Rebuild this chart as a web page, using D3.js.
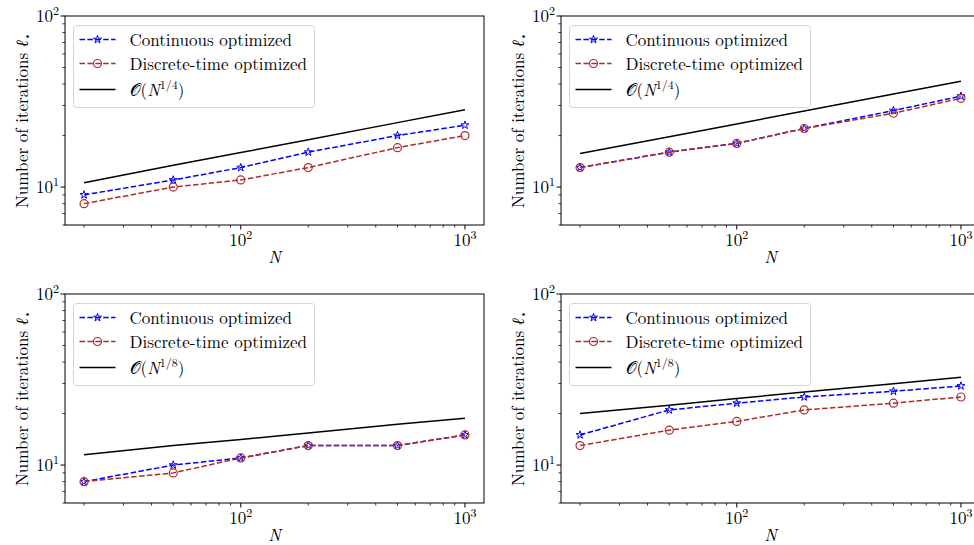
<!DOCTYPE html>
<html><head><meta charset="utf-8">
<script src="https://cdn.jsdelivr.net/npm/d3@7"></script>
<style>
body{margin:0;background:#fff}
svg{display:block}
</style>
</head><body><svg id="c" width="974" height="545"></svg>
<script>
// ---- data ----
const N = [20, 50, 100, 200, 500, 1000];
const contA = [9, 11, 13, 16, 20, 23];
const discA = [8, 10, 11, 13, 17, 20];
const refA  = [10.6, 13.4, 15.9, 18.9, 23.8, 28.3];
const contB = [13, 16, 18, 22, 28, 34];
const discB = [13, 16, 18, 22, 27, 33];
const refB  = [15.7, 19.7, 23.4, 27.8, 35.0, 41.6];
const contC = [8, 10, 11, 13, 13, 15];
const discC = [8, 9, 11, 13, 13, 15];
const refC  = [11.5, 13.0, 14.1, 15.4, 17.3, 18.8];
const contD = [15, 21, 23, 25, 27, 29];
const discD = [13, 16, 18, 21, 23, 25];
const refD  = [20.0, 22.4, 24.5, 26.7, 29.9, 32.6];
const seriesLabels = ["Continuous optimized", "Discrete-time optimized"];
const refExponents = ["1/4", "1/4", "1/8", "1/8"];
const xMajorTicks = [100, 1000];
const yMajorTicks = [10, 100];
const yLimits = [6, 100];

const panelData = [
  {cont: contA, disc: discA, ref: refA, exp: refExponents[0]},
  {cont: contB, disc: discB, ref: refB, exp: refExponents[1]},
  {cont: contC, disc: discC, ref: refC, exp: refExponents[2]},
  {cont: contD, disc: discD, ref: refD, exp: refExponents[3]}
];

// ---- layout ----
const W = 419, H = 209;
const origins = [[65, 16], [561, 16], [65, 294], [561, 294]];
const BLUE = "#0000ff", RED = "#b02a2a";
const FONT = "Latin Modern Roman";
const FS = 17;
const svg = d3.select("#c");

const lx = Math.log10(d3.min(N)), hx = Math.log10(d3.max(N));
const m = (hx - lx) * 0.05;
const xDomain = [Math.pow(10, lx - m), Math.pow(10, hx + m)];

function txt(sel) { return sel.append("text").style("font-family", FONT).attr("fill", "#000"); }
function sup(sel, base, exp, supfs, dy) {
  sel.append("tspan").text(base);
  sel.append("tspan").attr("font-size", supfs).attr("dy", dy).text(exp);
}
const STAR = d3.symbol(d3.symbolStar, 20)();

panelData.forEach((p, i) => {
  const [ox, oy] = origins[i];
  const g = svg.append("g").attr("transform", `translate(${ox},${oy})`);
  const x = d3.scaleLog().domain(xDomain).range([0, W]);
  const y = d3.scaleLog().domain(yLimits).range([H, 0]);

  // minor ticks
  const xMinor = [];
  for (let d = 1; d <= 1000; d *= 10) for (let k = 2; k <= 9; k++) {
    const v = d * k; if (v >= xDomain[0] && v <= xDomain[1]) xMinor.push(v);
  }
  const yMinor = [];
  for (let d = 1; d <= 100; d *= 10) for (let k = 2; k <= 9; k++) {
    const v = d * k; if (v >= yLimits[0] && v <= yLimits[1]) yMinor.push(v);
  }
  g.selectAll(".xmn").data(xMinor).join("line")
    .attr("x1", d => x(d)).attr("x2", d => x(d)).attr("y1", H).attr("y2", H + 2.5)
    .attr("stroke", "#000").attr("stroke-width", 0.8);
  g.selectAll(".ymn").data(yMinor).join("line")
    .attr("y1", d => y(d)).attr("y2", d => y(d)).attr("x1", 0).attr("x2", -2.5)
    .attr("stroke", "#000").attr("stroke-width", 0.8);
  g.selectAll(".xmj").data(xMajorTicks).join("line")
    .attr("x1", d => x(d)).attr("x2", d => x(d)).attr("y1", H).attr("y2", H + 4.5)
    .attr("stroke", "#000").attr("stroke-width", 1);
  g.selectAll(".ymj").data(yMajorTicks).join("line")
    .attr("y1", d => y(d)).attr("y2", d => y(d)).attr("x1", 0).attr("x2", -4.5)
    .attr("stroke", "#000").attr("stroke-width", 1);

  // tick labels
  xMajorTicks.forEach(v => {
    const t = txt(g).attr("x", x(v)).attr("y", H + 21)
      .attr("text-anchor", "middle").attr("font-size", FS);
    sup(t, "10", String(Math.round(Math.log10(v))), 12, -7);
  });
  yMajorTicks.forEach(v => {
    const t = txt(g).attr("x", -6).attr("y", y(v) + 6)
      .attr("text-anchor", "end").attr("font-size", FS);
    sup(t, "10", String(Math.round(Math.log10(v))), 12, -7);
  });

  // axis labels
  txt(g).attr("x", W / 2).attr("y", H + 38).attr("text-anchor", "middle")
    .attr("font-size", FS).attr("font-style", "italic").text("N");
  const yl = txt(g).attr("transform", `translate(-37,${H / 2}) rotate(-90)`)
    .attr("text-anchor", "middle").attr("font-size", FS);
  yl.append("tspan").text("Number of iterations ");
  yl.append("tspan").attr("font-style", "italic").text("ℓ");
  yl.append("tspan").attr("font-size", 11).attr("dy", 3).text("⋆");

  // data lines
  const line = d3.line().x(d => x(d[0])).y(d => y(d[1]));
  const dash = "5.5,2.4";
  g.append("path").datum(N.map((n, j) => [n, p.cont[j]])).attr("d", line)
    .attr("fill", "none").attr("stroke", BLUE).attr("stroke-width", 1.5).attr("stroke-dasharray", dash);
  g.selectAll(".star").data(N.map((n, j) => [n, p.cont[j]])).join("path")
    .attr("transform", d => `translate(${x(d[0])},${y(d[1])})`)
    .attr("d", STAR)
    .attr("fill", "none").attr("stroke", BLUE).attr("stroke-width", 1);
  g.append("path").datum(N.map((n, j) => [n, p.disc[j]])).attr("d", line)
    .attr("fill", "none").attr("stroke", RED).attr("stroke-width", 1.5).attr("stroke-dasharray", dash);
  g.selectAll(".circ").data(N.map((n, j) => [n, p.disc[j]])).join("circle")
    .attr("cx", d => x(d[0])).attr("cy", d => y(d[1])).attr("r", 4)
    .attr("fill", "none").attr("stroke", RED).attr("stroke-width", 1.2);
  g.append("path").datum(N.map((n, j) => [n, p.ref[j]])).attr("d", line)
    .attr("fill", "none").attr("stroke", "#000").attr("stroke-width", 1.5);

  // frame
  g.append("rect").attr("width", W).attr("height", H).attr("fill", "none")
    .attr("stroke", "#000").attr("stroke-width", 1);

  // legend
  const lg = g.append("g").attr("transform", "translate(8.5,9.5)");
  lg.append("rect").attr("width", 241).attr("height", 82).attr("rx", 3)
    .attr("fill", "#fff").attr("fill-opacity", 0.8).attr("stroke", "#d6d6d6").attr("stroke-width", 1);
  const rows = [14, 38, 64];
  const hx0 = 6, hx1 = 42, tx = 56;
  lg.append("line").attr("x1", hx0).attr("x2", hx1).attr("y1", rows[0]).attr("y2", rows[0])
    .attr("stroke", BLUE).attr("stroke-width", 1.5).attr("stroke-dasharray", dash);
  lg.append("path").attr("transform", `translate(${(hx0 + hx1) / 2},${rows[0]})`)
    .attr("d", STAR).attr("fill", "none").attr("stroke", BLUE).attr("stroke-width", 1);
  txt(lg).attr("x", tx).attr("y", rows[0] + 6).attr("font-size", FS).text(seriesLabels[0]);
  lg.append("line").attr("x1", hx0).attr("x2", hx1).attr("y1", rows[1]).attr("y2", rows[1])
    .attr("stroke", RED).attr("stroke-width", 1.5).attr("stroke-dasharray", dash);
  lg.append("circle").attr("cx", (hx0 + hx1) / 2).attr("cy", rows[1]).attr("r", 4)
    .attr("fill", "none").attr("stroke", RED).attr("stroke-width", 1.2);
  txt(lg).attr("x", tx).attr("y", rows[1] + 6).attr("font-size", FS).text(seriesLabels[1]);
  lg.append("line").attr("x1", hx0).attr("x2", hx1).attr("y1", rows[2]).attr("y2", rows[2])
    .attr("stroke", "#000").attr("stroke-width", 1.5);
  const t3 = txt(lg).attr("x", tx).attr("y", rows[2] + 6).attr("font-size", FS);
  t3.append("tspan").text("𝒪(");
  t3.append("tspan").attr("font-style", "italic").text("N");
  t3.append("tspan").attr("font-size", 12).attr("dy", -7).text(p.exp);
  t3.append("tspan").attr("dy", 7).text(")");
});
</script>
</body></html>
